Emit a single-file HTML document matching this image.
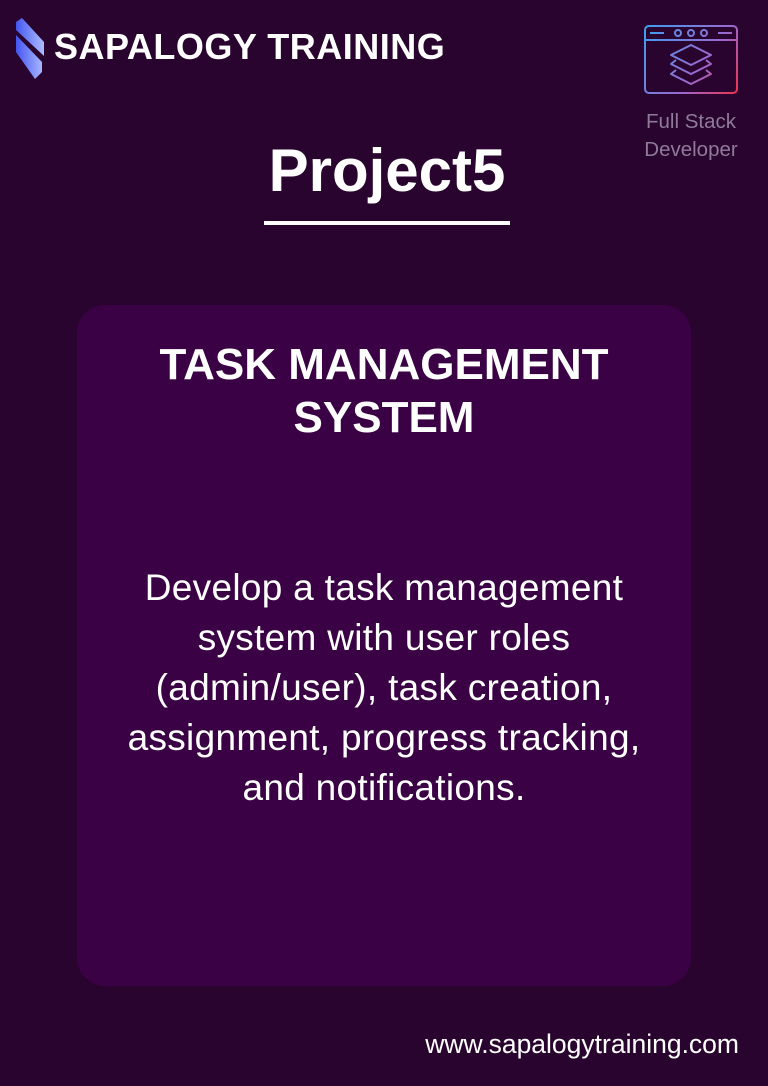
<!DOCTYPE html>
<html><head><meta charset="utf-8"><style>
html,body{margin:0;padding:0}
body{width:768px;height:1086px;background:#29042f;position:relative;overflow:hidden;font-family:"Liberation Sans",sans-serif;color:#fff}
.abs{position:absolute}
</style></head><body>
<svg class="abs" style="left:14px;top:18px" width="32" height="62" viewBox="0 0 32 62">
<defs><linearGradient id="lg" gradientUnits="userSpaceOnUse" x1="0" y1="0" x2="32" y2="0"><stop offset="0" stop-color="#3a4ef0"/><stop offset="1" stop-color="#b8c4ff"/></linearGradient></defs>
<polygon points="2,4 8,0 30,24 30,38 2,12" fill="url(#lg)"/>
<polygon points="2,17 28,44 28,54 21,61 2,34" fill="url(#lg)"/>
</svg>
<div class="abs" style="left:54px;top:26px;font-size:36px;font-weight:bold;letter-spacing:0.5px">SAPALOGY TRAINING</div>
<svg class="abs" style="left:644px;top:25px" width="94" height="70" viewBox="0 0 94 70">
<defs><linearGradient id="ig" gradientUnits="userSpaceOnUse" x1="0" y1="0" x2="94" y2="70"><stop offset="0" stop-color="#3aa0f0"/><stop offset="0.6" stop-color="#9a6ad0"/><stop offset="1" stop-color="#f0304a"/></linearGradient></defs>
<g fill="none" stroke="url(#ig)" stroke-width="2" stroke-linejoin="round">
<rect x="1" y="1" width="92" height="67" rx="4"/>
<line x1="1" y1="15" x2="93" y2="15"/>
<line x1="6" y1="8" x2="20" y2="8"/><line x1="74" y1="8" x2="88" y2="8"/>
<circle cx="34" cy="8" r="3"/><circle cx="47" cy="8" r="3"/><circle cx="60" cy="8" r="3"/>
<path d="M47 20 L67 30 L47 40 L27 30 Z"/><path d="M32 35 L27 39 L47 49 L67 39 L62 35"/><path d="M32 45 L27 49 L47 59 L67 49 L62 45"/>
</g></svg>
<div class="abs" style="left:620px;top:108px;width:142px;text-align:center;font-size:20.5px;line-height:28px;color:#8f7a98">Full Stack<br>Developer</div>
<div class="abs" style="left:0;width:774px;top:136px;text-align:center;font-size:60px;font-weight:bold">Project5</div>
<div class="abs" style="left:264px;top:221px;width:246px;height:4px;background:#fff"></div>
<div class="abs" style="left:77px;top:305px;width:614px;height:681px;background:#3a0244;border-radius:28px"></div>
<div class="abs" style="left:77px;width:614px;top:338px;text-align:center;font-size:44px;font-weight:bold;line-height:53px">TASK MANAGEMENT<br>SYSTEM</div>
<div class="abs" style="left:60px;width:648px;top:563px;text-align:center;font-size:37px;line-height:50px;letter-spacing:0.3px">Develop a task management<br>system with user roles<br>(admin/user), task creation,<br>assignment, progress tracking,<br>and notifications.</div>
<div class="abs" style="right:29px;top:1029px;font-size:26.5px">www.sapalogytraining.com</div>
</body></html>
